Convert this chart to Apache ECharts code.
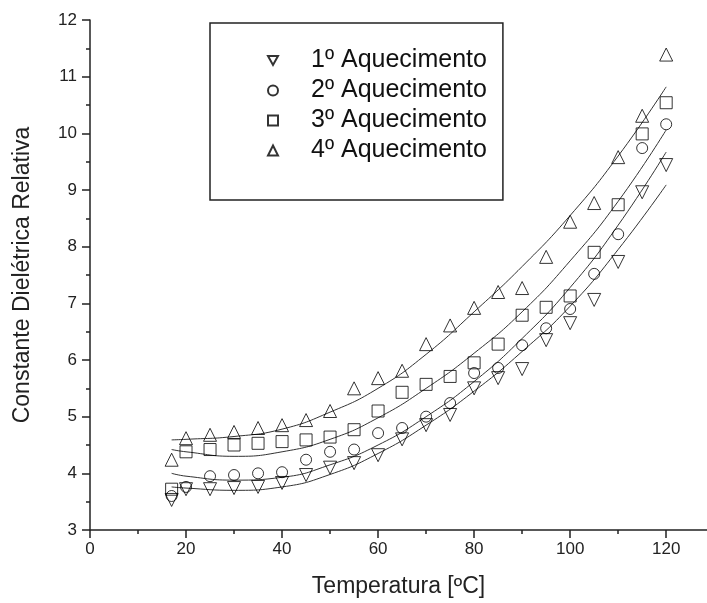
<!DOCTYPE html>
<html>
<head>
<meta charset="utf-8">
<script src="https://cdn.jsdelivr.net/npm/echarts@6/dist/echarts.min.js"></script>
<style>
  html, body { margin: 0; padding: 0; background: #fff; }
  #container { width: 707px; height: 603px; }
</style>
</head>
<body>
<div id="container"></div>
<script>
// measured points
var temps = [17, 20, 25, 30, 35, 40, 45, 50, 55, 60, 65, 70, 75, 80, 85, 90, 95, 100, 105, 110, 115, 120];
var heat1 = [3.53, 3.72, 3.72, 3.74, 3.76, 3.83, 3.97, 4.10, 4.18, 4.32, 4.60, 4.85, 5.03, 5.50, 5.68, 5.84, 6.35, 6.65, 7.06, 7.73, 8.96, 9.44];
var heat2 = [3.60, 3.76, 3.95, 3.97, 4.00, 4.02, 4.24, 4.38, 4.42, 4.71, 4.80, 5.00, 5.24, 5.77, 5.86, 6.26, 6.56, 6.90, 7.52, 8.22, 9.74, 10.16];
var heat3 = [3.72, 4.38, 4.42, 4.50, 4.53, 4.56, 4.59, 4.64, 4.77, 5.10, 5.43, 5.57, 5.71, 5.95, 6.28, 6.79, 6.93, 7.13, 7.90, 8.74, 9.99, 10.54];
var heat4 = [4.24, 4.62, 4.68, 4.73, 4.80, 4.85, 4.94, 5.10, 5.50, 5.68, 5.81, 6.28, 6.61, 6.92, 7.20, 7.27, 7.82, 8.44, 8.77, 9.58, 10.31, 11.39];

// fitted curves
var fitTemps = [17, 20, 30, 40, 50, 60, 70, 80, 90, 100, 110, 120];
var fit1 = [3.76, 3.74, 3.70, 3.76, 3.98, 4.35, 4.85, 5.45, 6.15, 6.95, 7.95, 9.09];
var fit2 = [4.00, 3.95, 3.88, 3.93, 4.15, 4.50, 5.00, 5.62, 6.38, 7.28, 8.38, 9.67];
var fit3 = [4.42, 4.38, 4.30, 4.38, 4.60, 4.98, 5.50, 6.12, 6.85, 7.75, 8.80, 10.06];
var fit4 = [4.59, 4.60, 4.65, 4.78, 5.08, 5.50, 6.10, 6.85, 7.65, 8.55, 9.60, 10.82];

var names = ['1º Aquecimento', '2º Aquecimento', '3º Aquecimento', '4º Aquecimento'];
var xMajor = [0, 20, 40, 60, 80, 100, 120];
var xMinor = [10, 30, 50, 70, 90, 110];

function pairs(xs, ys) {
  return xs.map(function (x, i) { return [x, ys[i]]; });
}

var font = 'Liberation Sans, Arial, sans-serif';
var axisColor = '#222';
var markStyle = { color: 'rgba(0,0,0,0)', borderColor: '#000', borderWidth: 1 };
var downTriangle = 'path://M0,0 L10,0 L5,9 Z';

function scatter(name, ys, symbol, size, rotate) {
  return {
    name: name,
    type: 'scatter',
    data: pairs(temps, ys),
    symbol: symbol,
    symbolSize: size,
    symbolRotate: rotate || 0,
    itemStyle: markStyle,
    z: 3
  };
}

function fit(ys) {
  return {
    type: 'line',
    data: pairs(fitTemps, ys),
    smooth: true,
    symbol: 'none',
    silent: true,
    lineStyle: { color: '#333', width: 1 },
    z: 2
  };
}

var dom = document.getElementById('container');
var myChart = echarts.init(dom, null, { renderer: 'canvas' });

var option = {
  animation: false,
  backgroundColor: '#fff',
  textStyle: { fontFamily: font },
  grid: { left: 90, right: 0, top: 20, bottom: 73 },
  legend: {
    data: [
      { name: names[0], icon: downTriangle },
      { name: names[1] },
      { name: names[2] },
      { name: names[3] }
    ],
    orient: 'vertical',
    left: 210,
    top: 23,
    padding: [25, 16, 37, 57],
    itemWidth: 10,
    itemHeight: 10,
    itemGap: 5,
    borderColor: axisColor,
    borderWidth: 1.5,
    textStyle: { fontSize: 25, color: '#111', fontFamily: font, padding: [0, 0, 0, 28] }
  },
  xAxis: [
    {
      type: 'value',
      min: 0,
      max: 128.5,
      name: 'Temperatura [ºC]',
      nameLocation: 'middle',
      nameGap: 45,
      nameTextStyle: { fontSize: 23, color: '#222', fontFamily: font },
      axisLine: { onZero: false, lineStyle: { color: axisColor, width: 1.5 } },
      axisTick: { length: 8, customValues: xMajor, lineStyle: { color: axisColor, width: 1.5 } },
      axisLabel: { customValues: xMajor, fontSize: 17, color: '#222', margin: 11 },
      splitLine: { show: false }
    },
    {
      type: 'value',
      min: 0,
      max: 128.5,
      position: 'bottom',
      axisLine: { show: false },
      axisTick: { length: 4, customValues: xMinor, lineStyle: { color: axisColor, width: 1.5 } },
      axisLabel: { show: false },
      splitLine: { show: false }
    }
  ],
  yAxis: {
    type: 'value',
    min: 3,
    max: 12,
    interval: 1,
    name: 'Constante Dielétrica Relativa',
    nameLocation: 'middle',
    nameGap: 56,
    nameTextStyle: { fontSize: 23, color: '#222', fontFamily: font },
    axisLine: { show: true, onZero: false, lineStyle: { color: axisColor, width: 1.5 } },
    axisTick: { length: 8, lineStyle: { color: axisColor, width: 1.5 } },
    minorTick: { show: true, splitNumber: 2, length: 4, lineStyle: { color: axisColor, width: 1.5 } },
    axisLabel: { fontSize: 17, color: '#222', margin: 13 },
    splitLine: { show: false }
  },
  series: [
    fit(fit1), fit(fit2), fit(fit3), fit(fit4),
    scatter(names[0], heat1, 'triangle', 13, 180),
    scatter(names[1], heat2, 'circle', 11),
    scatter(names[2], heat3, 'rect', 12),
    scatter(names[3], heat4, 'triangle', 13)
  ]
};

myChart.setOption(option);
window.onresize = function () {
  myChart.resize();
};
</script>
</body>
</html>
